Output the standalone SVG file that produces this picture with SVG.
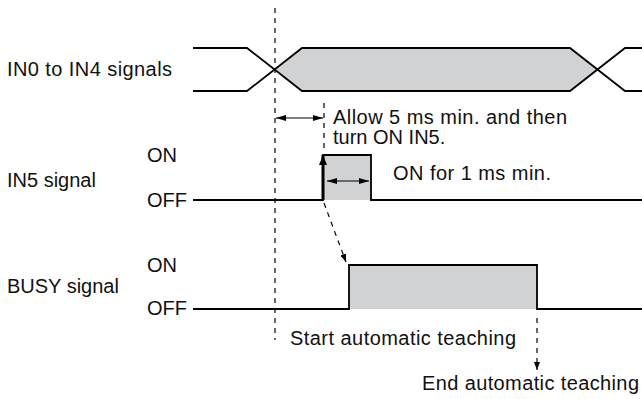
<svg xmlns="http://www.w3.org/2000/svg" width="642" height="399" viewBox="0 0 642 399">
<style>
  text { font-family: "Liberation Sans", Arial, sans-serif; font-size: 20px; fill: #111; }
  .sig { fill: none; stroke: #000; stroke-width: 1.8; stroke-linejoin: miter; }
  .fill { fill: #d1d2d4; stroke: none; }
  .dash { fill: none; stroke: #000; stroke-width: 1.2; stroke-dasharray: 5 5; }
  .dim { fill: none; stroke: #000; stroke-width: 1.2; }
</style>
<defs>
  <marker id="ah" viewBox="0 0 10 6" refX="10" refY="3" markerWidth="10" markerHeight="6" markerUnits="userSpaceOnUse" orient="auto-start-reverse">
    <path d="M0,0 L10,3 L0,6 z" fill="#000"/>
  </marker>
  <marker id="ahs" viewBox="0 0 8 6" refX="8" refY="3" markerWidth="8" markerHeight="6" markerUnits="userSpaceOnUse" orient="auto">
    <path d="M0,0 L8,3 L0,6 z" fill="#000"/>
  </marker>
  <marker id="ahb" viewBox="0 0 10 8" refX="10" refY="4" markerWidth="10" markerHeight="8" markerUnits="userSpaceOnUse" orient="auto">
    <path d="M0,0 L10,4 L0,8 z" fill="#000"/>
  </marker>
</defs>

<g id="bus-in0-in4">
  <polygon class="fill" points="274.5,69.5 302,48 570,48 597.5,69.5 570,91 302,91"/>
  <path class="sig" d="M193,48 H247 L302,91 H570 L625,48 H642"/>
  <path class="sig" d="M193,91 H247 L302,48 H570 L625,91 H642"/>
  <text x="7" y="76" textLength="165">IN0 to IN4 signals</text>
</g>

<g id="in5">
  <rect class="fill" x="323" y="155" width="48" height="45"/>
  <path class="sig" d="M193,200 H323 V155 H371 V200 H642"/>
  <text x="7" y="187">IN5 signal</text>
  <text x="147" y="162">ON</text>
  <text x="147" y="207">OFF</text>
</g>

<g id="busy">
  <rect class="fill" x="349" y="265" width="188" height="44"/>
  <path class="sig" d="M193,309 H349 V265 H537 V309 H642"/>
  <text x="7" y="293">BUSY signal</text>
  <text x="147" y="272">ON</text>
  <text x="147" y="315">OFF</text>
</g>

<g id="labels">
  <text x="333" y="124" textLength="234">Allow 5 ms min. and then</text>
  <text x="333" y="144">turn ON IN5.</text>
  <text x="393" y="180" textLength="158">ON for 1 ms min.</text>
  <text x="290" y="345" textLength="226">Start automatic teaching</text>
  <text x="422" y="390" textLength="217">End automatic teaching</text>
</g>

<g id="connectors">
  <line class="dash" x1="275" y1="8" x2="275" y2="340"/>
  <line class="dash" x1="324" y1="103" x2="324" y2="152"/>
  <line class="dim" x1="276" y1="118" x2="323" y2="118" marker-start="url(#ah)" marker-end="url(#ah)"/>
  <line class="dim" x1="327" y1="181" x2="369" y2="181" marker-start="url(#ah)" marker-end="url(#ah)"/>
  <line x1="323" y1="200" x2="323" y2="155" stroke="#000" stroke-width="3" marker-end="url(#ahb)"/>
  <line class="dash" x1="324" y1="203" x2="346" y2="262" marker-end="url(#ahs)"/>
  <line class="dash" x1="537" y1="318" x2="537" y2="370" marker-end="url(#ahs)"/>
</g>
</svg>
